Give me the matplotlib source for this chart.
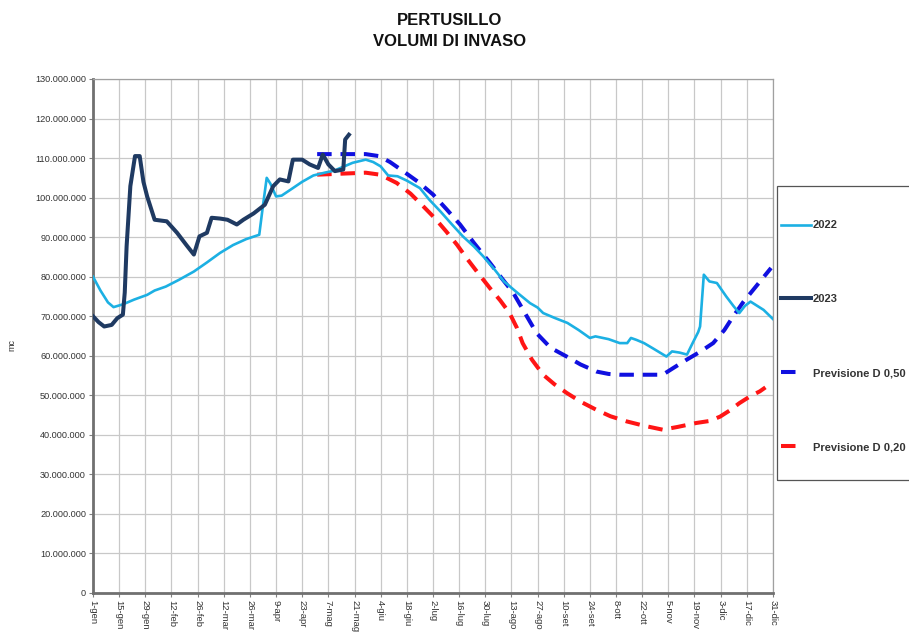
import matplotlib
matplotlib.use("Agg")
import matplotlib.pyplot as plt
from matplotlib.patches import Rectangle
from matplotlib.ticker import FuncFormatter, MultipleLocator

plt.rcParams['font.family'] = ['Liberation Sans', 'DejaVu Sans']

# x tick labels, every 14 days from 1-gen (day 0) to 31-dic (day 364)
tick_labels = ["1-gen", "15-gen", "29-gen", "12-feb", "26-feb", "12-mar", "26-mar",
               "9-apr", "23-apr", "7-mag", "21-mag", "4-giu", "18-giu", "2-lug",
               "16-lug", "30-lug", "13-ago", "27-ago", "10-set", "24-set", "8-ott",
               "22-ott", "5-nov", "19-nov", "3-dic", "17-dic", "31-dic"]

# series: day of year, volume in millions of m3
days_2022 = [0, 4, 8, 11, 16, 22, 29, 33, 39, 46, 54, 61, 68, 75, 82, 89, 91, 93, 95, 98,
             101, 107, 112, 118, 124, 129, 134, 139, 146, 150, 154, 158, 163, 168, 175,
             180, 186, 192, 198, 204, 209, 215, 220, 227, 234, 238, 241, 247, 254, 260,
             266, 269, 276, 282, 286, 288, 291, 295, 300, 307, 310, 314, 318, 321, 324,
             325, 327, 330, 334, 339, 343, 346, 349, 352, 356, 359, 364]
vol_2022 = [80, 76.5, 73.5, 72.3, 73, 74.2, 75.4, 76.5, 77.5, 79.2, 81.3, 83.6, 86, 88,
            89.5, 90.6, 98, 105, 103.5, 100.3, 100.5, 102.4, 104, 105.6, 106.3, 106.8,
            107.8, 108.8, 109.6, 109, 107.9, 105.6, 105.4, 104.3, 102.4, 99.5, 96.5, 93.3,
            90.2, 87.6, 85.1, 81.8, 78.8, 76, 73.3, 72.2, 70.8, 69.6, 68.3, 66.5, 64.5,
            64.9, 64.2, 63.2, 63.2, 64.5, 64, 63.2, 61.8, 59.8, 61.1, 60.8, 60.3, 63.2,
            66, 67.4, 80.5, 78.8, 78.4, 75, 72.5, 70.8, 72.6, 73.7, 72.5, 71.6, 69.3]

days_2023 = [0, 3, 6, 10, 13, 16, 17, 18, 20, 22.5, 25, 27, 29, 33, 39.5, 45, 50, 54, 57,
             61, 63.5, 68, 72, 77, 80.5, 86, 92, 96.5, 100, 104.6, 107, 112, 116, 120.5,
             123, 126, 129.5, 134, 135, 137]
vol_2023 = [70, 68.5, 67.4, 67.8, 69.5, 70.4, 76, 87.7, 102.9, 110.5, 110.5, 104, 100.3,
            94.4, 94, 91.1, 88, 85.6, 90.2, 91.1, 94.9, 94.7, 94.4, 93.2, 94.4, 96, 98.2,
            102.9, 104.6, 104.1, 109.6, 109.6, 108.4, 107.5, 110.9, 108.4, 106.7, 107.1,
            114.7, 115.9]

days_d50 = [120, 146, 153, 159, 166, 174, 182, 189, 196.5, 204, 212.5, 219, 225, 231,
            237.5, 245, 253.6, 261, 269.6, 276, 282, 295, 305, 311, 317.8, 325, 332, 338,
            342.8, 348, 353.5, 358, 363]
vol_d50 = [111, 111, 110.5, 109, 106.7, 104, 100.8, 97.2, 93.2, 88.5, 83.5, 79.5, 75.9,
           71, 65.7, 62, 59.8, 57.8, 56, 55.4, 55.2, 55.2, 55.2, 57, 59, 61, 63.2, 66.5,
           70, 73.5, 76.7, 79.3, 82.2]

days_d20 = [120, 146, 153.6, 158, 162.6, 170, 176.8, 183, 189, 195, 200, 206, 212.5, 218,
            223, 227, 230, 235, 241, 247, 253.6, 261, 269.6, 277, 285.7, 295, 305, 313,
            323, 330, 335.7, 341, 346, 352, 357, 360]
vol_d20 = [105.8, 106.3, 105.8, 104.8, 103.7, 101, 97.8, 94.8, 91.5, 88, 84.7, 81, 77.1,
           74, 70.8, 67, 63.2, 59, 55.2, 52.8, 50.6, 48.4, 46.3, 44.7, 43.4, 42.3, 41.3,
           42, 43, 43.5, 44.6, 46.2, 48, 49.8, 51, 52]


def to_m3(vals):
    return [v * 1e6 for v in vals]


fig = plt.figure(figsize=(9.09, 6.37), dpi=100)
ax = fig.add_axes([0.1023, 0.0691, 0.748, 0.8069])

ax.plot(days_2022, to_m3(vol_2022), color="#1cb0e3", lw=1.9, label="2022", zorder=3)
ax.plot(days_2023, to_m3(vol_2023), color="#1f3a62", lw=2.9, label="2023", zorder=4)
ax.plot(days_d50, to_m3(vol_d50), color="#1010e0", lw=2.9, dashes=(3.6, 2.2),
        label="Previsione D 0,50", zorder=2)
ax.plot(days_d20, to_m3(vol_d20), color="#ff1515", lw=2.9, dashes=(3.6, 2.2),
        label="Previsione D 0,20", zorder=2)

ax.set_xlim(0, 364)
ax.set_ylim(0, 130e6)
ax.set_xticks(range(0, 365, 14))
ax.set_xticklabels(tick_labels, rotation=270, fontsize=6.8, color="#333333")
ax.yaxis.set_major_locator(MultipleLocator(10e6))
ax.yaxis.set_major_formatter(FuncFormatter(lambda v, p: f"{int(round(v)):,}".replace(",", ".")))
ax.tick_params(axis="y", labelsize=6.6, labelcolor="#333333")
ax.tick_params(axis="both", direction="out", length=3, color="#808080", width=0.8, pad=2)

ax.grid(True, color="#c8c8c8", lw=0.9)
ax.set_axisbelow(True)
for side in ["left", "bottom"]:
    ax.spines[side].set_color("#707070")
    ax.spines[side].set_linewidth(2)
for side in ["right", "top"]:
    ax.spines[side].set_color("#a0a0a0")
    ax.spines[side].set_linewidth(0.9)

fig.text(0.013, 0.458, "mc", rotation=90, fontsize=6.5, color="#333333",
         ha="center", va="center")

fig.text(0.495, 0.98, "PERTUSILLO\nVOLUMI DI INVASO", ha="center", va="top",
         fontsize=12, fontweight="bold", linespacing=1.55, color="#111111")

# legend box drawn separately, legend entries placed inside it
fig.add_artist(Rectangle((0.8548, 0.2465), 0.2, 0.4615, transform=fig.transFigure,
                         fill=False, edgecolor="#555555", lw=0.9))
leg = fig.legend(loc="upper left", bbox_to_anchor=(0.8595, 0.654),
                 handlelength=2.7, handletextpad=0.15, labelspacing=5.75,
                 borderpad=0, borderaxespad=0, frameon=False,
                 prop={"weight": "bold", "size": 8})
for t in leg.get_texts():
    t.set_color("#333333")
# forecast handles show a single dash
for h in leg.legend_handles[2:]:
    h.set_dashes((3.6, 8))

fig.savefig("out.png", dpi=100)
